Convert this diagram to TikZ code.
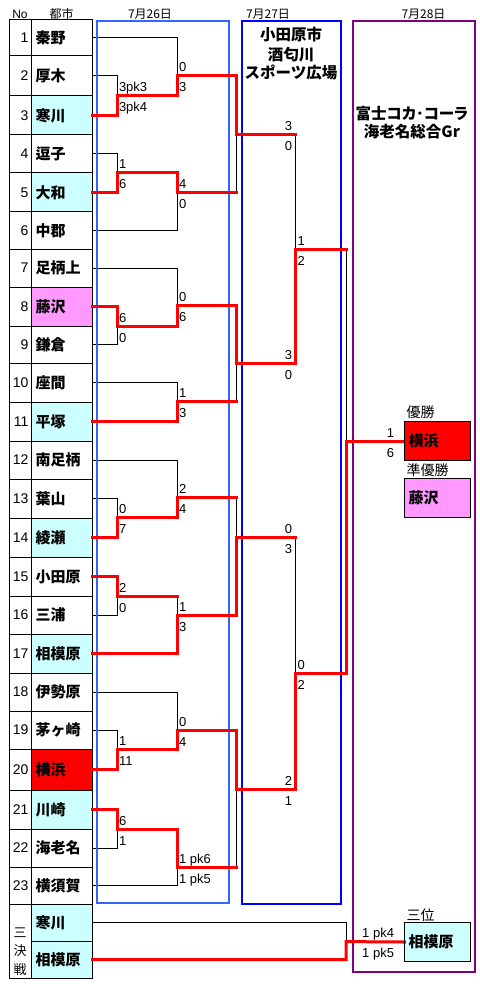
\documentclass[tikz,border=0pt]{standalone}
\usepackage{fontspec}
\setmainfont{Liberation Sans}
\newfontfamily\jp{Noto Sans CJK JP}
\newfontfamily\jpp{Noto Sans CJK JP}[RawFeature=+palt]
\usetikzlibrary{calc}
\definecolor{cyanc}{HTML}{CCFFFF}
\definecolor{pinkc}{HTML}{FF99FF}
\definecolor{boxa}{HTML}{3366FF}
\definecolor{purp}{HTML}{800080}
\newcommand\fs[1]{\fontsize{#1}{#1}\selectfont}
\newcommand\scL[3]{%
  \node[lab, anchor=base west] (#1u) at ([shift={(2,-4)}]#1) {#2};
  \node[lab, anchor=base west] (#1d) at ([shift={(2,16)}]#1) {#3};}
\newcommand\scR[5]{%
  \node[lab, anchor=base east] (#1u) at (#2,#3-4) {#4};
  \node[lab, anchor=base east] (#1d) at (#2,#3+16) {#5};}
\begin{document}
\begin{tikzpicture}[x=1pt,y=-1pt,
  cell/.style={draw=black, line width=1pt, inner sep=0pt, outer sep=0pt, minimum width=61pt, text width=53pt, align=left, anchor=north west, font=\jp\bfseries\fs{15}},
  numc/.style={draw=black, line width=1pt, inner sep=0pt, outer sep=0pt, minimum width=22pt, text width=16pt, align=right, anchor=north west, font=\fs{14}},
  lab/.style={inner sep=0pt, outer sep=0pt, font=\fs{13}},
  hdr/.style={inner sep=0pt, font=\jp\fs{12}},
  venue/.style={inner sep=0pt, font=\jp\bfseries\fs{15.5}},
  tag/.style={inner sep=0pt, anchor=west, font=\jp\fs{14}},
  wbox/.style={draw=black, line width=1pt, inner sep=0pt, outer sep=0pt, anchor=north west, minimum width=66.4pt, minimum height=39.4pt, text width=58pt, align=left, font=\jp\bfseries\fs{15}},
  bl/.style={draw=black, line width=1pt},
  rd/.style={draw=red, line width=3pt, line cap=rect}]
\useasboundingbox (0,0) rectangle (479,984);
% headers
\node[lab, font=\fs{12}] (hno) at (20,14) {No};
\node[hdr] (hcity) at (61.5,14) {都市};
\node[hdr] (d26) at (150,14) {7月26日};
\node[hdr] (d27) at (268,14) {7月27日};
\node[hdr] (d28) at (423.5,14) {7月28日};
% table
\foreach \i/\ya/\yb/\nm/\fc in {1/20/56/秦野/white, 2/56/96/厚木/white, 3/96/135/寒川/cyanc,
  4/135/173/逗子/white, 5/173/212/大和/cyanc, 6/212/249/中郡/white, 7/249/287/足柄上/white,
  8/287/326/藤沢/pinkc, 9/326/363/鎌倉/white, 10/363/402/座間/white, 11/402/441/平塚/cyanc,
  12/441/479/南足柄/white, 13/479/518/葉山/white, 14/518/557/綾瀬/cyanc, 15/557/596/小田原/white,
  16/596/634/三浦/white, 17/634/673/相模原/cyanc, 18/673/711/伊勢原/white, 19/711/749/茅ヶ崎/white,
  20/749/790/横浜/red, 21/790/829/川崎/cyanc, 22/829/867/海老名/white, 23/867/904/横須賀/white}
{
  \node[cell, fill=\fc, minimum height={\yb-\ya}] (t\i) at (31.5,\ya) {\nm};
  \node[numc, minimum height={\yb-\ya}] (n\i) at (9.5,\ya) {\i};
}
\node[cell, fill=cyanc, minimum height=37pt] (t24) at (31.5,904) {寒川};
\node[cell, fill=cyanc, minimum height=37pt] (t25) at (31.5,941) {相模原};
\node[numc, minimum height=74pt] (n24) at (9.5,904) {};
\node[inner sep=0pt, align=center, font=\jp\fontsize{13}{18.5}\selectfont] (kessen) at (20,951.5) {三\\決\\戦};
% match points
\coordinate (A) at (117,96);
\coordinate (B) at (177,75.5);
\coordinate (C) at (236,135);
\coordinate (D) at (117,173);
\coordinate (E) at (177,192.7);
\coordinate (F) at (295.5,249);
\coordinate (H) at (117,326);
\coordinate (I) at (177,305);
\coordinate (J) at (177,401);
\coordinate (K) at (236,363);
\coordinate (L) at (117,517.3);
\coordinate (M) at (177,497);
\coordinate (Q) at (117,596);
\coordinate (N) at (177,615);
\coordinate (P) at (236,537);
\coordinate (U) at (117,749.3);
\coordinate (R) at (177,730);
\coordinate (V) at (117,829);
\coordinate (S) at (177,867);
\coordinate (T) at (236,789);
\coordinate (X) at (295.5,673);
\coordinate (W) at (346,441);
\coordinate (Z) at (346,941.6);
% winner boxes
\node[wbox, fill=red] (win) at (404.3,421.3) {横浜};
\node[wbox, fill=pinkc] (second) at (404.3,478.3) {藤沢};
\node[wbox, fill=cyanc] (third) at (404.3,922.3) {相模原};
\node[tag] (tg1) at (406.5,412.5) {優勝};
\node[tag] (tg2) at (406.5,470.5) {準優勝};
\node[tag] (tg3) at (406.5,915) {三位};
% black bracket
\draw[bl] (t2.east) -| (A) (t3.east) -| (A) (t1.east) -| (B) (A) -| (B)
  (t4.east) -| (D) (t5.east) -| (D) (D) -| (E) (t6.east) -| (E)
  (B) -| (C) (E) -| (C)
  (t8.east) -| (H) (t9.east) -| (H) (t7.east) -| (I) (H) -| (I)
  (t10.east) -| (J) (t11.east) -| (J) (I) -| (K) (J) -| (K)
  (C) -| (F) (K) -| (F)
  (t13.east) -| (L) (t14.east) -| (L) (t12.east) -| (M) (L) -| (M)
  (t15.east) -| (Q) (t16.east) -| (Q) (Q) -| (N) (t17.east) -| (N)
  (M) -| (P) (N) -| (P)
  (t19.east) -| (U) (t20.east) -| (U) (t18.east) -| (R) (U) -| (R)
  (t21.east) -| (V) (t22.east) -| (V) (V) -| (S) (t23.east) -| (S)
  (R) -| (T) (S) -| (T)
  (P) -| (X) (T) -| (X)
  (F) -| (W) (X) -| (W)
  (t24.east) -| (Z) (t25.east) -| (Z);
% day boxes
\draw[draw=boxa, line width=2pt] (96.7,20.7) rectangle (229,903.3);
\draw[draw=blue, line width=2pt] (241.7,20.7) rectangle (340.7,904);
\draw[draw=purp, line width=2pt] (352.7,20.7) rectangle (475,971.7);
% red winner paths
\draw[rd] (t3.east) -| (A) -| (B) -| (C) -- (C -| F);
\draw[rd] (t5.east) -| (D) -| (E) -- (E -| C);
\draw[rd] (t8.east) -| (H) -| (I) -| (K) -| (F) -- (F -| W);
\draw[rd] (t11.east) -| (J) -- (J -| K);
\draw[rd] (t14.east) -| (L) -| (M) -- (M -| P);
\draw[rd] (t15.east) -| (Q) -- (Q -| N);
\draw[rd] (t17.east) -| (N) -| (P) -- (P -| X);
\draw[rd] (t20.east) -| (U) -| (R) -| (T) -| (X) -| (W) -- (win.west);
\draw[rd] (t21.east) -| (V) -| (S) -- (S -| T);
\draw[rd] (t25.east) -| (Z) -- (third.west);
% redraw box borders over red ends
\draw[line width=1pt] (win.north west) rectangle (win.south east);
\draw[line width=1pt] (third.north west) rectangle (third.south east);
% venues
\node[venue] (v1) at (291,35) {小田原市};
\node[venue] (v2) at (291,54.5) {酒匂川};
\node[venue] (v3) at (291,72.5) {スポーツ広場};
\node[venue] (g1) at (412,113.3) {\jpp\bfseries 富士コカ･コーラ};
\node[venue] (g2) at (412,131.7) {海老名総合Gr};
% scores
\scL{A}{3pk3}{3pk4}
\scL{B}{0}{3}
\scL{D}{1}{6}
\scL{E}{4}{0}
\scL{H}{6}{0}
\scL{I}{0}{6}
\scL{J}{1}{3}
\scL{L}{0}{7}
\scL{M}{2}{4}
\scL{Q}{2}{0}
\scL{N}{1}{3}
\scL{U}{1}{11}
\scL{R}{0}{4}
\scL{V}{6}{1}
\scL{S}{1 pk6}{1 pk5}
\scL{F}{1}{2}
\scL{X}{0}{2}
\scR{C}{292}{135}{3}{0}
\scR{K}{292}{363}{3}{0}
\scR{P}{292}{537}{0}{3}
\scR{T}{292}{789}{2}{1}
\scR{W}{394}{441}{1}{6}
\scR{Z}{394}{941.6}{1 pk4}{1 pk5}
\end{tikzpicture}
\end{document}
